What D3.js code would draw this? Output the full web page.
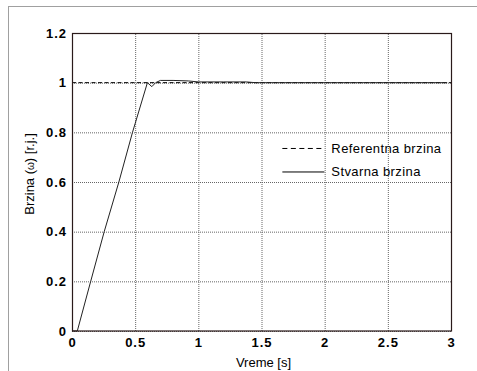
<!DOCTYPE html>
<html lang="sr">
<head>
    <meta charset="UTF-8">
    <title>Brzina</title>
    <style>
        body {
            margin: 0;
            padding: 0;
            background: #fff;
        }

        #chart text {
            font-family: Arial, "Liberation Sans", sans-serif;
            fill: #000;
        }

        .grid line {
            stroke: #666;
            stroke-dasharray: 1, 1;
        }

        .tick-label {
            font-size: 13px;
            font-weight: bold;
            letter-spacing: 1px;
        }
    </style>
</head>
<body>
<svg id="chart" width="477" height="371"></svg>

<script src="https://d3js.org/d3.v7.min.js"></script>
<script>
    // stvarna brzina, ocitano sa slike
    var timeS = [0, 0.042, 0.148, 0.255, 0.371, 0.479, 0.597, 0.632, 0.662, 0.70, 0.80, 0.92, 1.0, 1.2, 1.38, 1.45, 2.97];
    var speedActual = [0, 0, 0.2, 0.4, 0.6, 0.8, 1.0, 0.984, 1.0, 1.009, 1.009, 1.007, 1.003, 1.003, 1.003, 1.0, 1.0];

    // referentna brzina
    var refTime = [0, 3];
    var refSpeed = [1, 1];

    var xTicks = [0, 0.5, 1, 1.5, 2, 2.5, 3];
    var xTickLabels = ["0", "0.5", "1", "1.5", "2", "2.5", "3"];
    var yTicks = [0, 0.2, 0.4, 0.6, 0.8, 1, 1.2];
    var yTickLabels = ["0", "0.2", "0.4", "0.6", "0.8", "1", "1.2"];

    var legendNames = ["Referentna brzina", "Stvarna brzina"];

    var margin = { top: 33, right: 26, bottom: 40, left: 72 };
    var width = 477 - margin.left - margin.right;
    var height = 371 - margin.top - margin.bottom;

    var svg = d3.select("#chart");

    // okvir slike (gornja i leva linija)
    svg.append("line")
        .attr("x1", 8).attr("y1", 6.5).attr("x2", 477).attr("y2", 6.5)
        .attr("stroke", "#a0a0a0");
    svg.append("line")
        .attr("x1", 8.5).attr("y1", 6).attr("x2", 8.5).attr("y2", 371)
        .attr("stroke", "#a0a0a0");

    var g = svg.append("g")
        .attr("transform", "translate(" + margin.left + "," + margin.top + ")");

    var x = d3.scaleLinear().domain([0, 3]).range([0, width]);
    var y = d3.scaleLinear().domain([0, 1.2]).range([height, 0]);

    // mreza
    g.append("g")
        .attr("class", "grid")
        .attr("transform", "translate(0," + height + ")")
        .call(d3.axisBottom(x).tickValues(xTicks).tickSize(-height).tickFormat(""))
        .call(a => a.select(".domain").remove());

    g.append("g")
        .attr("class", "grid")
        .call(d3.axisLeft(y).tickValues(yTicks).tickSize(-width).tickFormat(""))
        .call(a => a.select(".domain").remove());

    // ose
    var xAxis = g.append("g")
        .attr("transform", "translate(0," + height + ")")
        .call(d3.axisBottom(x).tickValues(xTicks).tickSize(0).tickPadding(7)
            .tickFormat((d, i) => xTickLabels[i]));
    xAxis.select(".domain").remove();
    xAxis.selectAll("text").attr("class", "tick-label");

    var yAxis = g.append("g")
        .call(d3.axisLeft(y).tickValues(yTicks).tickSize(0).tickPadding(5)
            .tickFormat((d, i) => yTickLabels[i]));
    yAxis.select(".domain").remove();
    yAxis.selectAll("text").attr("class", "tick-label");

    // linije
    var line = d3.line()
        .x(d => x(d[0]))
        .y(d => y(d[1]));

    g.append("path")
        .datum(d3.zip(refTime, refSpeed))
        .attr("fill", "none")
        .attr("stroke", "#000")
        .attr("stroke-dasharray", "4,2.5")
        .attr("d", line);

    g.append("path")
        .datum(d3.zip(timeS, speedActual))
        .attr("fill", "none")
        .attr("stroke", "#222")
        .attr("stroke-width", 1)
        .attr("d", line);

    // okvir grafika
    g.append("rect")
        .attr("x", 0.5).attr("y", 0.5)
        .attr("width", width).attr("height", height - 0.5)
        .attr("fill", "none")
        .attr("stroke", "#2a1a1a")
        .attr("stroke-width", 1.2);

    // legenda
    var legend = g.append("g")
        .attr("transform", "translate(" + x(1.665) + "," + (y(0.737) + 0.5) + ")");

    legendNames.forEach(function (name, i) {
        var row = legend.append("g").attr("transform", "translate(0," + (i * 23.5) + ")");
        row.append("line")
            .attr("x1", 0).attr("x2", 42)
            .attr("stroke", "#000")
            .attr("stroke-dasharray", i === 0 ? "5,3.5" : null);
        row.append("text")
            .attr("x", 49).attr("y", 4.5)
            .style("font-size", "13px")
            .style("letter-spacing", "0.4px")
            .text(name);
    });

    // nazivi osa
    g.append("text")
        .attr("x", width / 2 + 2)
        .attr("y", height + 36)
        .attr("text-anchor", "middle")
        .style("font-size", "13px")
        .text("Vreme [s]");

    var yLabel = g.append("text")
        .attr("transform", "translate(" + (-38) + "," + (height / 2 - 8) + ") rotate(-90)")
        .attr("text-anchor", "middle")
        .style("font-size", "13px");
    yLabel.append("tspan").text("Brzina (");
    yLabel.append("tspan").style("font-size", "10px").text("ω");
    yLabel.append("tspan").text(") [r.j.]");
</script>
</body>
</html>
